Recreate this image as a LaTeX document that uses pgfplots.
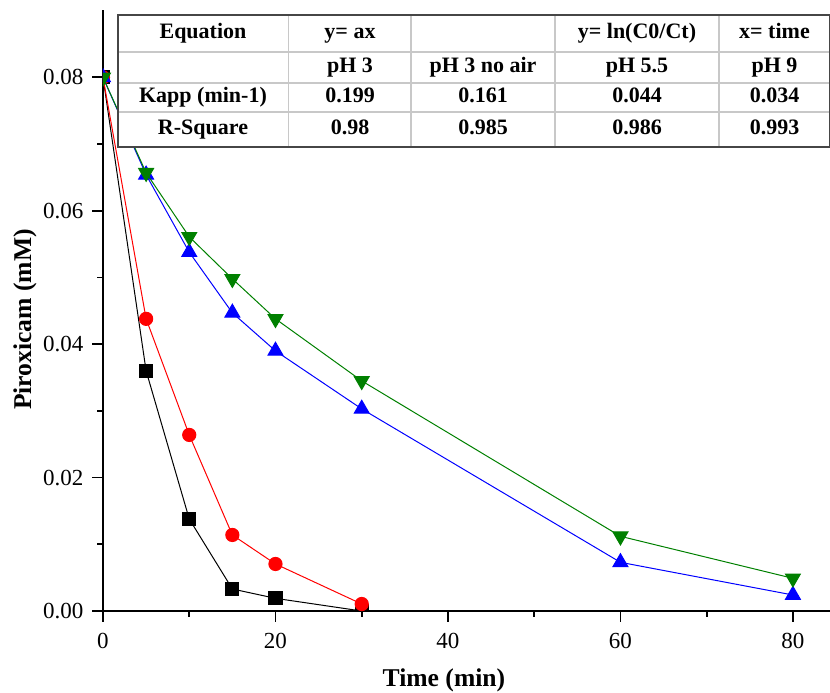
\documentclass[border=0pt]{standalone}
\usepackage{pgfplots}
\pgfplotsset{compat=1.18}
\usepackage{fontspec}
\setmainfont{Liberation Serif}
\definecolor{ogreen}{RGB}{0,128,0}
\definecolor{tgray}{RGB}{200,200,200}
\definecolor{tdark}{RGB}{70,70,70}
\begin{document}
\begin{tikzpicture}
\begin{axis}[
  name=ax,
  scale only axis,
  width=363.5pt, height=300.5pt,
  xmin=0, xmax=84.3, ymin=0, ymax=0.0901,
  axis x line*=bottom, axis y line*=left,
  axis line style={line width=1pt, -},
  xtick={0,20,40,60,80},
  ytick={0,0.02,0.04,0.06,0.08},
  minor x tick num=1, minor y tick num=1,
  tick align=outside,
  major tick length=5.3pt, minor tick length=2.8pt,
  tick style={line width=0.9pt, black},
  yticklabel style={/pgf/number format/fixed, /pgf/number format/fixed zerofill, /pgf/number format/precision=2, xshift=-1pt},
  /pgf/number format/assume math mode=true,
  tick label style={font=\fontsize{11.5}{13}\selectfont},
  xticklabel style={yshift=-2.5pt},
  scaled y ticks=false,
  xlabel={\textbf{Time (min)}},
  ylabel={\textbf{Piroxicam (mM)}},
  label style={font=\fontsize{12.8}{14}\selectfont},
  xlabel style={at={(axis description cs:0.469,-0.1148)}, anchor=center},
  ylabel style={at={(axis description cs:-0.1073,0.485)}, anchor=center},
  clip marker paths=true,
  every axis plot/.append style={line width=0.5pt},
]
\addplot[black, mark=square*, mark size=3.3pt, mark options={solid}] coordinates {
(0,0.08) (5,0.036) (10,0.0138) (15,0.0033) (20,0.0019) (30,0.0)};
\addplot[red, mark=*, mark size=3.3pt] coordinates {
(0,0.08) (5,0.0438) (10,0.0264) (15,0.0114) (20,0.00705) (30,0.00105)};
\addplot[blue, mark=triangle*, mark size=4.3pt] coordinates {
(0,0.08) (5,0.0654) (10,0.0538) (15,0.0447) (20,0.039) (30,0.0303) (60,0.0073) (80,0.0024)};
\addplot[ogreen, mark=triangle*, mark size=4.3pt, mark options={rotate=180}] coordinates {
(0,0.08) (5,0.0657) (10,0.0561) (15,0.0498) (20,0.0438) (30,0.0345) (60,0.0112) (80,0.0049)};
\coordinate (O) at (rel axis cs:0,0);
\end{axis}
\begin{scope}[shift={(O)}, x=0.5pt, y=-0.5pt, font=\fontsize{11}{13}\selectfont\bfseries,
  every node/.style={text height=7.6pt, text depth=2.4pt, inner sep=0pt, anchor=center}]
  % table in pixel coords relative to (103,611)
  \fill[white] (15,-596) rectangle (727,-464);
  \draw[tgray, line width=0.6pt] (15,-559) -- (727,-559);
  \draw[tgray, line width=0.6pt] (15,-528) -- (727,-528);
  \draw[tgray, line width=0.6pt] (15,-499) -- (727,-499);
  \draw[tgray, line width=0.6pt] (185.5,-596) -- (185.5,-464);
  \draw[tgray, line width=0.6pt] (308,-596) -- (308,-464);
  \draw[tgray, line width=0.6pt] (452,-596) -- (452,-464);
  \draw[tgray, line width=0.6pt] (616,-596) -- (616,-464);
  \draw[tdark, line width=0.9pt] (15,-596) rectangle (727,-464);
  % row 1
  \node at (100,-577.5) {Equation};
  \node at (247,-577.5) {y= ax};
  \node at (534,-577.5) {y= ln(C0/Ct)};
  \node at (671.5,-577.5) {x= time};
  % row 2
  \node at (247,-543.5) {pH 3};
  \node at (380,-543.5) {pH 3 no air};
  \node at (534,-543.5) {pH 5.5};
  \node at (671.5,-543.5) {pH 9};
  % row 3
  \node at (100,-513.5) {Kapp (min-1)};
  \node at (247,-513.5) {0.199};
  \node at (380,-513.5) {0.161};
  \node at (534,-513.5) {0.044};
  \node at (671.5,-513.5) {0.034};
  % row 4
  \node at (100,-481.5) {R-Square};
  \node at (247,-481.5) {0.98};
  \node at (380,-481.5) {0.985};
  \node at (534,-481.5) {0.986};
  \node at (671.5,-481.5) {0.993};
  \pgfresetboundingbox
  \path[use as bounding box] (-103,-611) rectangle (727,81);
\end{scope}
\end{tikzpicture}
\end{document}
